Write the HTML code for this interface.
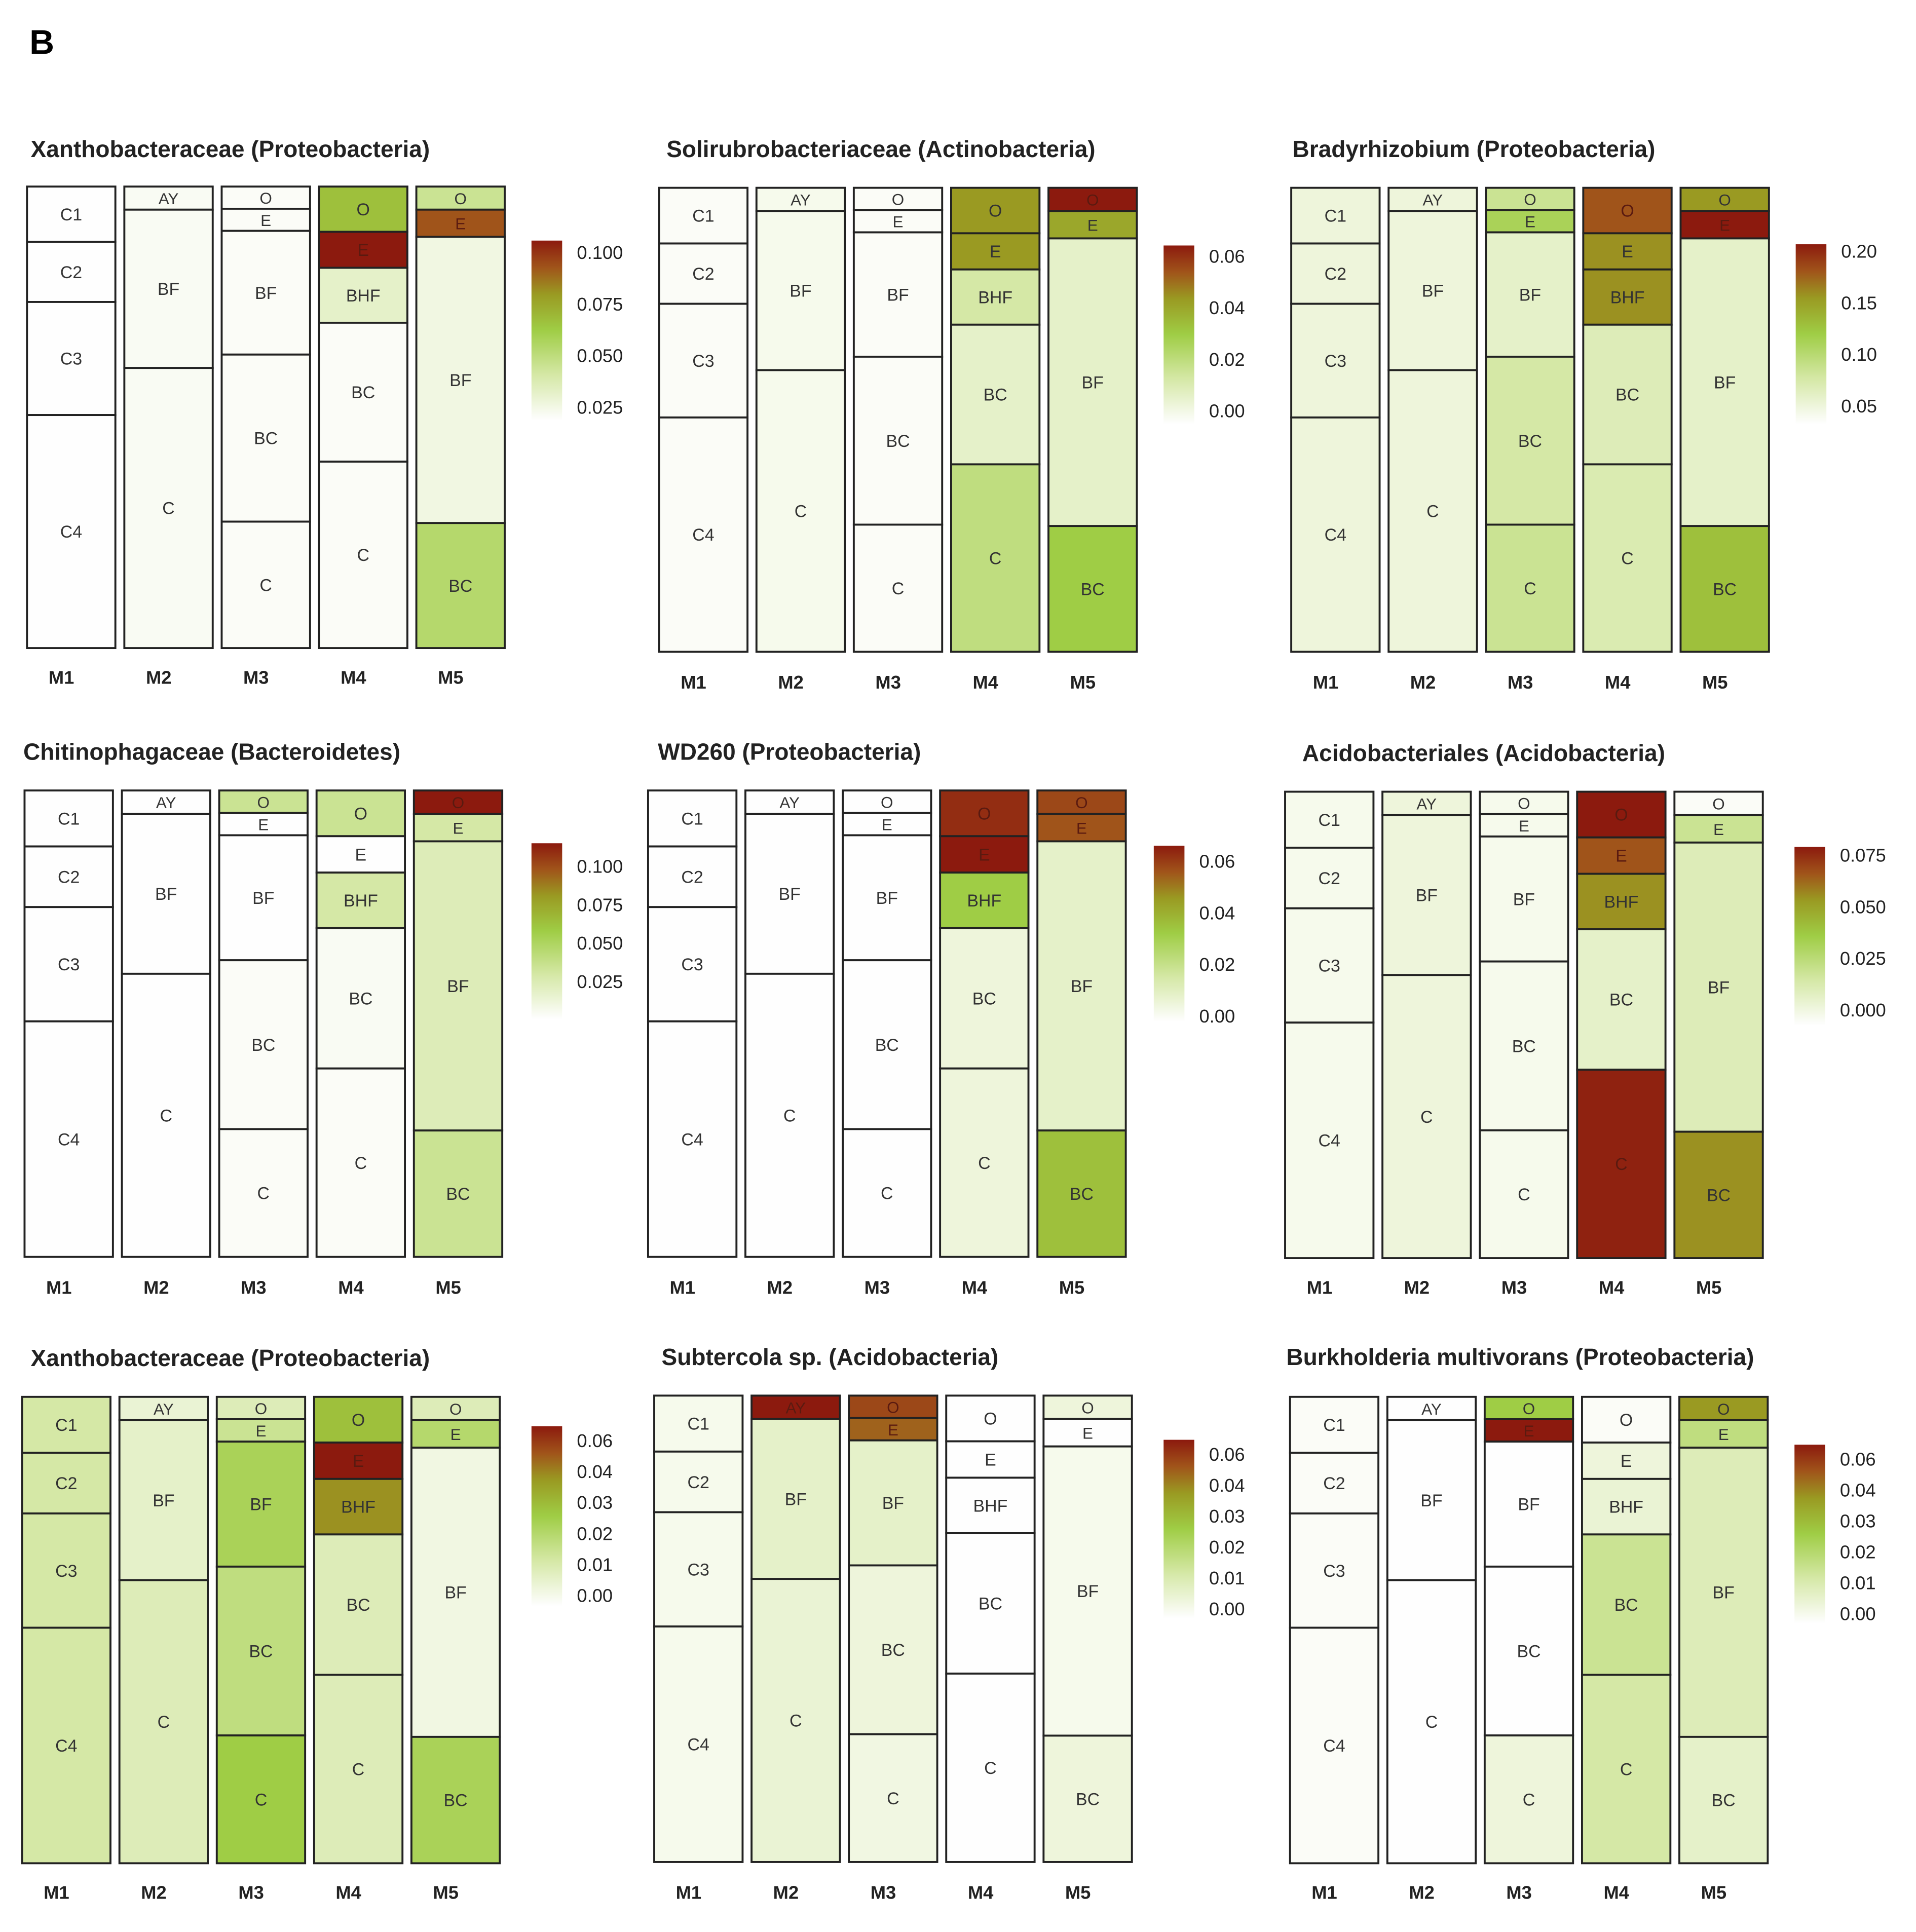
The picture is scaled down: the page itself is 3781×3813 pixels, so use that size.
<!DOCTYPE html>
<html><head><meta charset="utf-8"><style>
html,body{margin:0;padding:0;background:#fff}
svg{display:block}
text{font-family:"Liberation Sans",sans-serif}
</style></head><body>
<svg id="fig" width="3781" height="3813" viewBox="0 0 1561 1574" preserveAspectRatio="none" xmlns="http://www.w3.org/2000/svg">
<rect width="1561" height="1574" fill="#fff"/>
<text x="24" y="44" font-size="28" font-weight="bold">B</text>
</svg>
<script>
// Panel titles
const titles = ["Xanthobacteraceae (Proteobacteria)","Solirubrobacteriaceae (Actinobacteria)","Bradyrhizobium (Proteobacteria)",
"Chitinophagaceae (Bacteroidetes)","WD260 (Proteobacteria)","Acidobacteriales (Acidobacteria)",
"Xanthobacteraceae (Proteobacteria)","Subtercola sp. (Acidobacteria)","Burkholderia multivorans (Proteobacteria)"];
// Columns
const columns = ["M1","M2","M3","M4","M5"];
// Segment labels and boundaries (fraction of column height)
const segLabels = [["C1","C2","C3","C4"],["AY","BF","C"],["O","E","BF","BC","C"],["O","E","BHF","BC","C"],["O","E","BF","BC"]];
const segBounds = [[0,0.12,0.25,0.495,1],[0,0.05,0.393,1],[0,0.048,0.096,0.364,0.726,1],[0,0.098,0.176,0.295,0.596,1],[0,0.05,0.109,0.729,1]];
// Normalized abundance (0..1 of each panel's colour scale), per panel, per column, per segment
const values = [
 [[0,0,0,0],[0.03,0.03,0.03],[0.02,0.02,0.02,0.02,0.02],[0.55,1.0,0.15,0.02,0.02],[0.3,0.85,0.08,0.4]],
 [[0.02,0.02,0.02,0.02],[0.05,0.05,0.05],[0.02,0.02,0.02,0.02,0.02],[0.7,0.7,0.25,0.15,0.35],[1.0,0.65,0.15,0.5]],
 [[0.1,0.1,0.1,0.1],[0.1,0.1,0.1],[0.3,0.45,0.15,0.25,0.3],[0.85,0.72,0.72,0.2,0.22],[0.7,1.0,0.15,0.55]],
 [[0,0,0,0],[0,0,0],[0.3,0,0,0.02,0.02],[0.3,0,0.25,0.03,0.02],[1.0,0.25,0.2,0.3]],
 [[0,0,0,0],[0,0,0],[0,0,0,0,0],[0.95,1.0,0.5,0.1,0.1],[0.88,0.85,0.15,0.55]],
 [[0.05,0.05,0.05,0.05],[0.1,0.1,0.1],[0.05,0.05,0.05,0.05,0.05],[1.0,0.85,0.72,0.15,0.98],[0.02,0.3,0.2,0.72]],
 [[0.25,0.25,0.25,0.25],[0.12,0.15,0.2],[0.2,0.3,0.45,0.35,0.5],[0.55,1.0,0.72,0.2,0.2],[0.2,0.4,0.08,0.45]],
 [[0.05,0.05,0.05,0.05],[1.0,0.15,0.12],[0.88,0.82,0.15,0.1,0.08],[0,0,0,0,0],[0.1,0,0.05,0.1]],
 [[0.02,0.02,0.02,0.02],[0,0,0],[0.5,1.0,0,0,0.1],[0.02,0.1,0.12,0.3,0.25],[0.7,0.35,0.2,0.15]]
];
// Legend tick labels
const legendTicks = [
 ["0.100","0.075","0.050","0.025"],["0.06","0.04","0.02","0.00"],["0.20","0.15","0.10","0.05"],
 ["0.100","0.075","0.050","0.025"],["0.06","0.04","0.02","0.00"],["0.075","0.050","0.025","0.000"],
 ["0.06","0.04","0.03","0.02","0.01","0.00"],["0.06","0.04","0.03","0.02","0.01","0.00"],["0.06","0.04","0.03","0.02","0.01","0.00"]
];
// layout
const panelX=[22,537,1052,20,528,1047,18,533,1051];
const panelTop=[152,153,153,644,644,645,1138,1137,1138];
const panelBot=[528,531,531,1024,1024,1025,1518,1517,1518];
const titleXY=[[25,128],[543,128],[1053,128],[19,619],[536,619],[1061,620],[25,1113],[539,1112],[1048,1112]];
const colLabelY=[557,561,561,1054,1054,1054,1547,1547,1547];
const legX=[433,948,1463,433,940,1462,433,948,1462];
const legTop=[196,200,199,687,689,690,1162,1173,1177];
const legBot=[342,345,345,830,832,835,1308,1318,1322];
const legLabTop=[206,209,205,706,702,697,1174,1185,1189];
const legLabBot=[332,335,331,800,828,823,1300,1311,1315];

const stops=[[0,[254,254,254]],[0.25,[213,232,166]],[0.5,[159,205,69]],[0.7,[154,154,34]],[0.85,[160,84,26]],[1,[140,26,14]]];
function color(v){v=Math.max(0,Math.min(1,v));for(let i=1;i<stops.length;i++){if(v<=stops[i][0]){const a=stops[i-1],b=stops[i],t=(v-a[0])/(b[0]-a[0]);const c=a[1].map((x,k)=>Math.round(x+(b[1][k]-x)*t));return `rgb(${c})`;}}return 'rgb(140,26,14)';}
const NS="http://www.w3.org/2000/svg",svg=document.getElementById('fig');
function el(tag,attrs,parent){const e=document.createElementNS(NS,tag);for(const k in attrs)e.setAttribute(k,attrs[k]);(parent||svg).appendChild(e);return e;}
const defs=el('defs',{});
const gr=el('linearGradient',{id:'lg',x1:0,y1:1,x2:0,y2:0},defs);
stops.forEach(s=>el('stop',{offset:s[0],'stop-color':`rgb(${s[1]})`},gr));
const colW=72,pitch=79.3;
for(let p=0;p<9;p++){
 const g=el('g',{});
 
 
 const t=el('text',{x:titleXY[p][0],y:titleXY[p][1],'font-size':19,'font-weight':'bold',fill:'#222'},g);
 t.textContent=titles[p];
 
 
 const top=panelTop[p],H=panelBot[p]-top;
 for(let c=0;c<5;c++){
  const x=panelX[p]+c*pitch;
  const b=segBounds[c];
  for(let s=0;s<segLabels[c].length;s++){
   const y0=top+b[s]*H,y1=top+b[s+1]*H;
   const r=el('rect',{x:x,y:y0,width:colW,height:y1-y0,fill:color(values[p][c][s]),stroke:'#222','stroke-width':1.6},g);
   
   
   const v=values[p][c][s];
   const lt=el('text',{x:x+colW/2,y:(y0+y1)/2+5,'font-size':(y1-y0)<24?13:14,'text-anchor':'middle',fill:v>0.8?'#5a1a10':'#333'},g);
   lt.textContent=segLabels[c][s];
   
   
  }
  const cl=el('text',{x:x+28,y:colLabelY[p],'font-size':15,'font-weight':'bold','text-anchor':'middle',fill:'#222'},g);
  cl.textContent=columns[c];
  
  
 }
 const lb=el('rect',{x:legX[p],y:legTop[p],width:25,height:legBot[p]-legTop[p],fill:'url(#lg)'},g);
 
 
 const ticks=legendTicks[p],n=ticks.length;
 for(let i=0;i<n;i++){
  const y=legLabTop[p]+(legLabBot[p]-legLabTop[p])*i/(n-1);
  const tt=el('text',{x:legX[p]+37,y:y+5,'font-size':15,fill:'#222'},g);
  tt.textContent=ticks[i];
  
  
 }
}
</script>
</body></html>
